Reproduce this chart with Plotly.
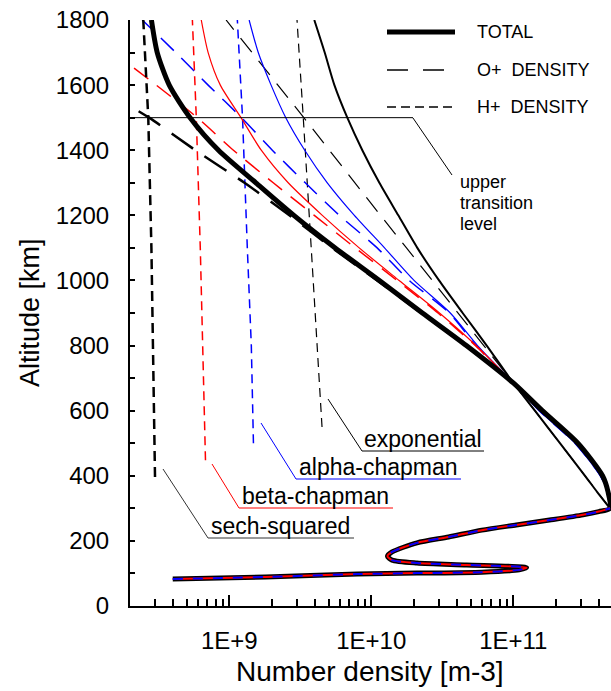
import plotly.graph_objects as go

# ---------------- data ----------------
# shared bottomside (E and F regions)
BOT_ALT = [83, 89, 98, 101, 104, 111, 118, 126, 132, 141, 153, 166, 194, 212, 233, 249, 264, 280, 290, 300]
BOT_N = [4.0e8, 1.8e9, 8.0e9, 2.1e10, 6.0e10, 1.1e11, 1.24e11, 4.7e10, 2.1e10, 1.4e10, 1.3e10, 1.4e10,
         2.1e10, 3.5e10, 6.0e10, 1.05e11, 1.8e11, 3.1e11, 4.0e11, 4.8e11]

TOP_ALT = [300, 350, 400, 500, 600, 685, 800, 900, 1000, 1100, 1200, 1300, 1400, 1500, 1600, 1700, 1800]

# sech-squared
SECH_TOTAL = [4.8e11, 4.65e11, 4.25e11, 2.85e11, 1.6e11, 1.0e11, 4.67e10, 2.29e10, 1.14e10, 5.57e9,
              2.85e9, 1.54e9, 8.4e8, 5.3e8, 3.78e8, 3.11e8, 2.83e8]
SECH_OP_ALT = [300, 350, 400, 500, 600, 685, 800, 900, 1000, 1100, 1200, 1300, 1400, 1500, 1535]
SECH_OP = [4.8e11, 4.65e11, 4.25e11, 2.85e11, 1.6e11, 1.0e11, 4.6e10, 2.25e10, 1.1e10, 5.3e9,
           2.65e9, 1.28e9, 5.77e8, 2.73e8, 2.0e8]
SECH_HP_ALT = [396, 700, 1100, 1500, 1800]
SECH_HP = [3.0e8, 2.94e8, 2.83e8, 2.69e8, 2.48e8]

# beta-chapman
BETA_TOTAL = [4.8e11, 4.62e11, 4.2e11, 2.8e11, 1.57e11, 1.0e11, 5.47e10, 3.02e10, 1.57e10, 8.22e9,
              4.52e9, 2.6e9, 1.68e9, 1.21e9, 8.65e8, 7.1e8, 6.35e8]
BETA_OP_ALT = [300, 350, 400, 500, 600, 685, 800, 900, 1000, 1100, 1200, 1300, 1400, 1500, 1600, 1662]
BETA_OP = [4.8e11, 4.62e11, 4.2e11, 2.8e11, 1.57e11, 1.0e11, 5.4e10, 2.95e10, 1.52e10, 7.71e9,
           3.97e9, 2.04e9, 1.07e9, 5.96e8, 3.06e8, 2.0e8]
BETA_HP_ALT = [448, 800, 1100, 1500, 1800]
BETA_HP = [6.8e8, 6.5e8, 6.25e8, 5.86e8, 5.5e8]

# alpha-chapman
ALPHA_TOTAL = [4.8e11, 4.6e11, 4.1e11, 2.72e11, 1.52e11, 1.0e11, 5.6e10, 3.6e10, 2.0e10, 1.24e10,
               7.6e9, 4.9e9, 3.4e9, 2.5e9, 1.97e9, 1.6e9, 1.38e9]
ALPHA_OP = [4.8e11, 4.6e11, 4.1e11, 2.72e11, 1.52e11, 1.0e11, 5.48e10, 3.54e10, 1.85e10, 1.1e10,
            5.96e9, 3.43e9, 2.01e9, 1.22e9, 7.1e8, 4.2e8, 2.44e8]
ALPHA_HP_ALT = [500, 800, 1100, 1500, 1800]
ALPHA_HP = [1.48e9, 1.43e9, 1.34e9, 1.24e9, 1.14e9]

# exponential
EXP_TOTAL = [4.8e11, 3.9e11, 3.2e11, 2.13e11, 1.42e11, 1.0e11, 6.5e10, 4.4e10, 3.0e10, 2.11e10,
             1.55e10, 1.14e10, 8.65e9, 6.78e9, 5.5e9, 4.7e9, 3.97e9]
EXP_OP = [4.8e11, 3.9e11, 3.2e11, 2.13e11, 1.42e11, 1.0e11, 6.2e10, 4.1e10, 2.7e10, 1.77e10,
          1.16e10, 7.7e9, 5.1e9, 3.35e9, 2.2e9, 1.45e9, 9.5e8]
EXP_HP_ALT = [550, 800, 1000, 1500, 1800]
EXP_HP = [4.5e9, 4.17e9, 3.9e9, 3.32e9, 3.0e9]

TRANSITION_ALT = 1500
X_TICKS = [1e9, 1e10, 1e11]
X_TICK_TEXT = ["1E+9", "1E+10", "1E+11"]
MODEL_LABELS = ["exponential", "alpha-chapman", "beta-chapman", "sech-squared"]
LEGEND_LABELS = ["TOTAL", "O+\u00a0 DENSITY", "H+\u00a0 DENSITY"]
TRANSITION_LABEL = ["upper", "transition", "level"]

# ---------------- figure ----------------
RED = "#ff0000"
BLUE = "#0000ff"
FONT = "Liberation Sans, Arial, sans-serif"

fig = go.Figure()


def add(x, y, color, width, dash="solid", smooth=True):
    line = dict(color=color, width=width, dash=dash)
    if smooth:
        line.update(shape="spline", smoothing=0.7)
    fig.add_trace(go.Scatter(x=x, y=y, mode="lines", showlegend=False, hoverinfo="skip", line=line))


OP_DASH = "18px,11px"
HP_DASH = "9px,6px"

# exponential
add(EXP_TOTAL, TOP_ALT, "black", 2)
add(EXP_OP, TOP_ALT, "black", 1.2, OP_DASH, smooth=False)
add(EXP_HP, EXP_HP_ALT, "black", 1.2, HP_DASH, smooth=False)
# alpha-chapman
add(ALPHA_TOTAL, TOP_ALT, BLUE, 1.2)
add(ALPHA_OP, TOP_ALT, BLUE, 1.5, OP_DASH)
add(ALPHA_HP, ALPHA_HP_ALT, BLUE, 1.5, HP_DASH, smooth=False)
# beta-chapman
add(BETA_TOTAL, TOP_ALT, RED, 1.2)
add(BETA_OP, BETA_OP_ALT, RED, 1.5, OP_DASH)
add(BETA_HP, BETA_HP_ALT, RED, 1.5, HP_DASH, smooth=False)
# sech-squared (thick total, continuous with bottomside)
add(BOT_N + SECH_TOTAL[1:], BOT_ALT + TOP_ALT[1:], "black", 5)
add(SECH_OP, SECH_OP_ALT, "black", 2.5, "26px,14px")
add(SECH_HP, SECH_HP_ALT, "black", 2.5, "10px,6px", smooth=False)
# bottomside overlays
add(BOT_N, BOT_ALT, RED, 2)
add(BOT_N, BOT_ALT, BLUE, 2, "10px,10px")


def px(x):
    return (x - 130) / 481


def py(y):
    return (606 - y) / 586


shapes = []


def seg(x0, y0, x1, y1, color="black", width=1, dash="solid"):
    shapes.append(dict(type="line", xref="paper", yref="paper", x0=px(x0), y0=py(y0),
                       x1=px(x1), y1=py(y1), line=dict(color=color, width=width, dash=dash)))


# legend samples
seg(387, 32, 455, 32, width=5)
seg(387, 70, 445, 70, width=1.5, dash="21px,15px")
seg(387, 107, 453, 107, width=1.5, dash="9px,5px")

# upper transition level
shapes.append(dict(type="line", xref="paper", yref="y", x0=0, x1=px(413),
                   y0=TRANSITION_ALT, y1=TRANSITION_ALT, line=dict(color="black", width=1)))
seg(413, 118, 452, 175)

# model labels: leader + underline
seg(328, 399, 362, 451); seg(362, 451, 484, 451)
seg(261, 423, 296, 479, BLUE); seg(296, 479, 461, 479, BLUE)
seg(212, 464, 239, 508, RED); seg(239, 508, 393, 508, RED)
seg(163, 469, 208, 538, "#333333"); seg(208, 538, 354, 538, "#333333")

annotations = []


def text(s, x, y, size, anchor="left", angle=0):
    annotations.append(dict(text=s, xref="paper", yref="paper", x=px(x), y=py(y),
                            xanchor=anchor, yanchor="middle", showarrow=False, textangle=angle,
                            font=dict(family=FONT, size=size, color="black"), align="left"))


for lbl, yy in zip(LEGEND_LABELS, [32, 70, 107]):
    text(lbl, 475, yy, 18)
for lbl, yy in zip(TRANSITION_LABEL, [182, 203, 224]):
    text(lbl, 458, yy, 18)
text(MODEL_LABELS[0], 362, 439, 23)
text(MODEL_LABELS[1], 297, 467, 23)
text(MODEL_LABELS[2], 240, 496, 23)
text(MODEL_LABELS[3], 209, 526, 23)
text("Number density [m-3]", 370, 672, 28, anchor="center")
text("Altitude [km]", 30, 313, 27, anchor="center", angle=-90)

minor_vals = [m * 10 ** e for e in range(8, 12) for m in range(2, 10)]

fig.update_layout(
    width=611, height=691,
    margin=dict(l=130, r=0, t=20, b=85),
    paper_bgcolor="white", plot_bgcolor="white",
    showlegend=False,
    shapes=shapes, annotations=annotations,
    font=dict(family=FONT, color="black"),
    xaxis=dict(type="log", range=[8.30103, 11.688], showgrid=False, zeroline=False,
               showline=True, linecolor="black", linewidth=2,
               ticks="inside", ticklen=11, tickwidth=1.5, tickcolor="black",
               tickvals=X_TICKS, ticktext=X_TICK_TEXT, tickfont=dict(size=24),
               ticklabelstandoff=12,
               minor=dict(ticks="inside", ticklen=7, tickwidth=1.5, tickcolor="black",
                          tickvals=minor_vals, showgrid=False)),
    yaxis=dict(range=[0, 1800], showgrid=False, zeroline=False,
               showline=True, linecolor="black", linewidth=2,
               ticks="inside", ticklen=5, tickwidth=1.5, tickcolor="black",
               tickmode="linear", tick0=0, dtick=200, tickfont=dict(size=24),
               ticklabelstandoff=14,
               minor=dict(ticks="inside", ticklen=5, tickwidth=1.5, tickcolor="black",
                          dtick=100, showgrid=False)),
)

fig.write_html("out.html")
